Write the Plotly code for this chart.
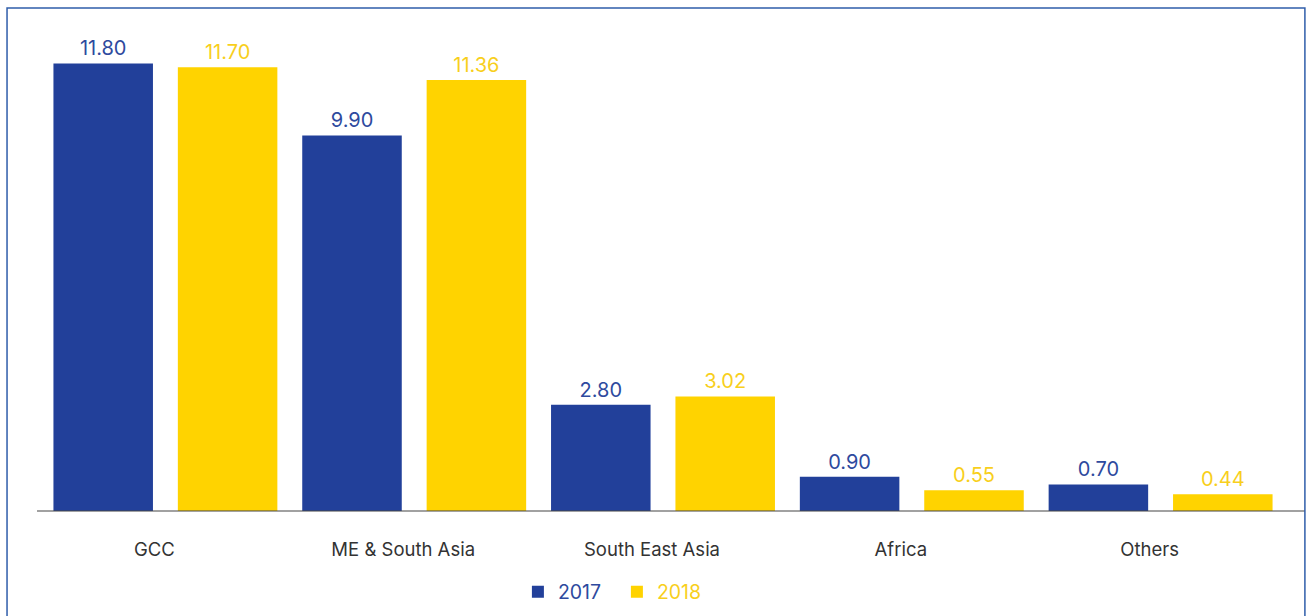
import plotly.graph_objects as go

categories = ["GCC", "ME & South Asia", "South East Asia", "Africa", "Others"]
values_2017 = [11.80, 9.90, 2.80, 0.90, 0.70]
values_2018 = [11.70, 11.36, 3.02, 0.55, 0.44]
series_names = ["2017", "2018"]

BLUE = "#22409A"
YELLOW = "#FFD300"
BLUE_TXT = "#2E4A9E"
YELLOW_TXT = "#F8CF1C"
FONT = "Inter, Liberation Sans, Arial, sans-serif"

fig = go.Figure()
for name, vals, col, tcol in [(series_names[0], values_2017, BLUE, BLUE_TXT),
                              (series_names[1], values_2018, YELLOW, YELLOW_TXT)]:
    fig.add_trace(go.Bar(
        x=categories, y=vals,
        name="<span style='color:%s'>%s</span>" % (tcol, name),
        marker=dict(color=col, line=dict(width=0)),
        text=[f"{v:.2f}" for v in vals], textposition="outside",
        textfont=dict(color=tcol, size=20, family=FONT),
        cliponaxis=False,
    ))

fig.update_layout(
    width=1307, height=616,
    margin=dict(l=41, r=22, t=30, b=105, autoexpand=False),
    paper_bgcolor="white", plot_bgcolor="white",
    barmode="group", bargap=0.0, bargroupgap=0.2,
    font=dict(family=FONT),
    showlegend=True,
    legend=dict(orientation="h", xref="container", x=0.472, xanchor="center",
                yref="container", y=(616 - 592) / 616, yanchor="middle",
                font=dict(size=19.5, family=FONT, color=BLUE_TXT),
                entrywidth=54, traceorder="normal"),
    xaxis=dict(showgrid=False, showline=False, zeroline=False,
               ticks="", ticklabelstandoff=25, ticklabelshift=-11,
               tickfont=dict(size=18.5, color="#333333", family=FONT)),
    yaxis=dict(range=[0, 12.68], visible=False, showgrid=False, zeroline=False),
    shapes=[
        dict(type="line", xref="paper", yref="paper", x0=-0.0032, x1=1.016, y0=0, y1=0,
             line=dict(color="#444444", width=1.2)),
        dict(type="rect", xref="paper", yref="paper", x0=-0.0273, x1=1.016, y0=-0.24, y1=1.0457,
             line=dict(color="#2F5DAA", width=1.5), fillcolor="rgba(0,0,0,0)"),
    ],
)

fig.write_html("out.html", config={"displayModeBar": False},
               post_script="document.body.style.margin='0px';document.body.style.overflow='hidden';")
